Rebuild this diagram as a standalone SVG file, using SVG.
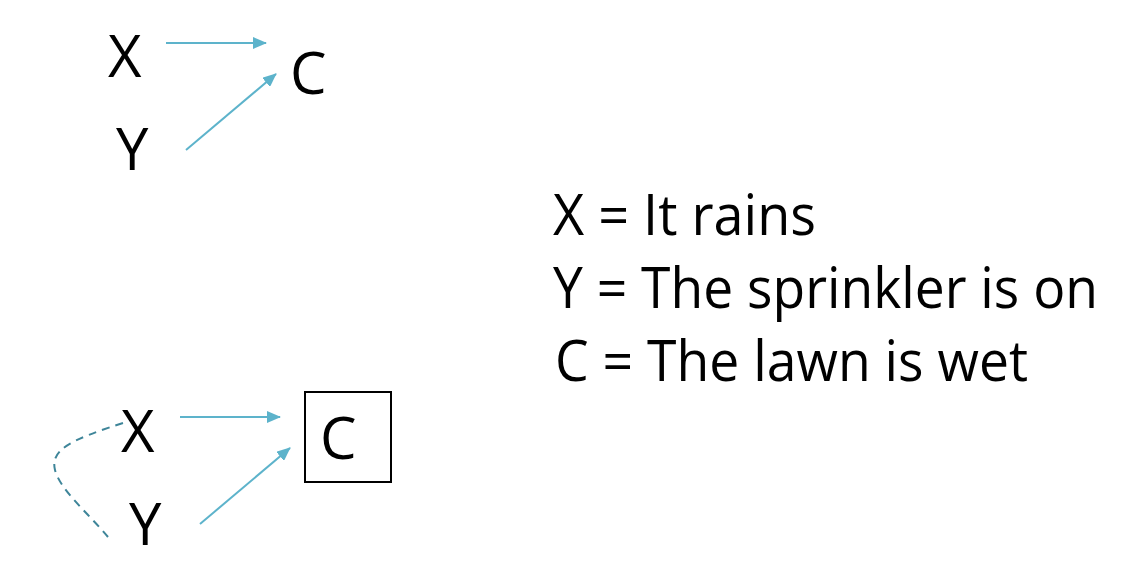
<svg xmlns="http://www.w3.org/2000/svg" width="1122" height="580" viewBox="0 0 1122 580">
<style>
.v{font-family:"Open Sans","Noto Sans",sans-serif;font-size:58px;fill:#000}
.lg{font-family:"Open Sans","Noto Sans",sans-serif;font-size:56px;fill:#000}
.a{stroke:#5db3cb;stroke-width:2;fill:none;marker-end:url(#ah)}
.d{stroke:#3e8599;stroke-width:2;fill:none;stroke-dasharray:8,6}
</style>
<defs>
<marker id="ah" viewBox="0 0 14 12" refX="13" refY="6" markerWidth="14" markerHeight="12" markerUnits="userSpaceOnUse" orient="auto">
<path d="M0,0 L14,6 L0,12 Z" fill="#5db3cb"/>
</marker>
</defs>
<rect width="1122" height="580" fill="#fff"/>
<g id="connectors">
<line class="a" x1="166" y1="43" x2="266" y2="43"/>
<line class="a" x1="186" y1="150" x2="276" y2="74"/>
<line class="a" x1="180" y1="417" x2="280" y2="417"/>
<line class="a" x1="200" y1="524" x2="290" y2="448"/>
<path class="d" d="M123,423 C70,440 50,450 55,470 C60,490 90,515 108,537"/>
</g>
<g id="top-X"><text class="v" x="108" y="77">X</text></g>
<g id="top-Y"><text class="v" x="116" y="170">Y</text></g>
<g id="top-C"><text class="v" x="290" y="94">C</text></g>
<g id="bot-X"><text class="v" x="121" y="452">X</text></g>
<g id="bot-Y"><text class="v" x="129" y="545">Y</text></g>
<g id="bot-C"><rect x="305" y="392" width="86" height="90" fill="none" stroke="#000" stroke-width="2"/><text class="v" x="320" y="459">C</text></g>
<g id="legend">
<text class="lg" x="553" y="235" textLength="263" lengthAdjust="spacingAndGlyphs">X = It rains</text>
<text class="lg" x="553" y="308" textLength="545" lengthAdjust="spacingAndGlyphs">Y = The sprinkler is on</text>
<text class="lg" x="555" y="381" textLength="473" lengthAdjust="spacingAndGlyphs">C = The lawn is wet</text>
</g>
</svg>
